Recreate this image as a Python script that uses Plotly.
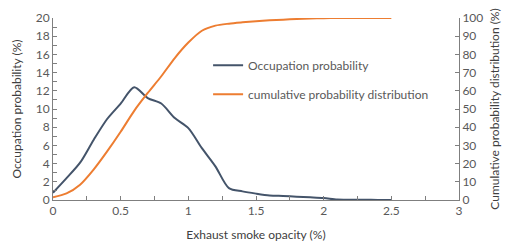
import plotly.graph_objects as go

opacity = [0.0, 0.1, 0.2, 0.3, 0.4, 0.5, 0.6, 0.7, 0.8, 0.9, 1.0, 1.1, 1.2, 1.3,
           1.4, 1.5, 1.6, 1.7, 1.8, 1.9, 2.0, 2.1, 2.2, 2.3, 2.4, 2.5]
occupation = [0.8, 2.4, 4.1, 6.6, 8.9, 10.6, 12.4, 11.2, 10.6, 9.0, 7.9, 5.7, 3.7, 1.3,
              0.95, 0.7, 0.5, 0.44, 0.37, 0.3, 0.22, 0.05, 0.03, 0.02, 0.01, 0.0]
cumulative = [1.5, 3.6, 8.4, 16.7, 26.7, 37.5, 49.0, 58.8, 68.0, 78.0, 86.5, 93.0, 95.8, 96.9,
              97.6, 98.2, 98.7, 99.1, 99.4, 99.7, 99.9, 100.0, 100.0, 100.0, 100.0, 100.0]

names = ["Occupation probability", "cumulative probability distribution"]
colors = ["#44546A", "#ED7D31"]
FONT = "Lato"
GREY = "#595959"

fig = go.Figure()
fig.add_trace(go.Scatter(x=opacity, y=occupation, name=names[0], mode="lines",
                         line=dict(color=colors[0], width=2, shape="spline", smoothing=0.8),
                         legendgroup="a"))
fig.add_trace(go.Scatter(x=opacity, y=cumulative, name=names[1], mode="lines",
                         line=dict(color=colors[1], width=2, shape="spline", smoothing=0.8),
                         yaxis="y2", legendgroup="b"))

axis_common = dict(showline=True, linecolor="#7f7f7f", linewidth=1, showgrid=False,
                   zeroline=False, ticks="inside", ticklen=4, tickcolor="#7f7f7f",
                   automargin=False,
                   tickfont=dict(family=FONT, size=12, color=GREY))
title_font = dict(family=FONT, size=12, color="#404040")

# page body has an 8px default margin; figure is sized to fit the 517x242 window
fig.update_layout(
    width=509, height=234,
    margin=dict(l=45, r=58, t=10, b=42),
    paper_bgcolor="white", plot_bgcolor="white",
    font=dict(family=FONT, size=12, color=GREY),
    xaxis=dict(range=[0, 3], dtick=0.5, tick0=0,
               minor=dict(dtick=0.25, ticks="inside", ticklen=4, tickcolor="#7f7f7f"),
               title=dict(text="Exhaust smoke opacity (%)", font=title_font, standoff=14),
               **axis_common),
    yaxis=dict(range=[0, 20], dtick=2,
               minor=dict(dtick=1, ticks="inside", ticklen=4, tickcolor="#7f7f7f"),
               title=dict(text="Occupation probability (%)", font=title_font, standoff=11),
               **axis_common),
    yaxis2=dict(range=[0, 100], dtick=10, overlaying="y", side="right",
                title=dict(text="Cumulative probability distribution (%)", font=title_font, standoff=8),
                **axis_common),
    legend=dict(x=0.382, y=0.82, xanchor="left", yanchor="top", bgcolor="rgba(0,0,0,0)",
                font=dict(family=FONT, size=12, color=GREY), traceorder="grouped",
                tracegroupgap=10, itemwidth=30),
    showlegend=True,
)

fig.write_html("out.html")
